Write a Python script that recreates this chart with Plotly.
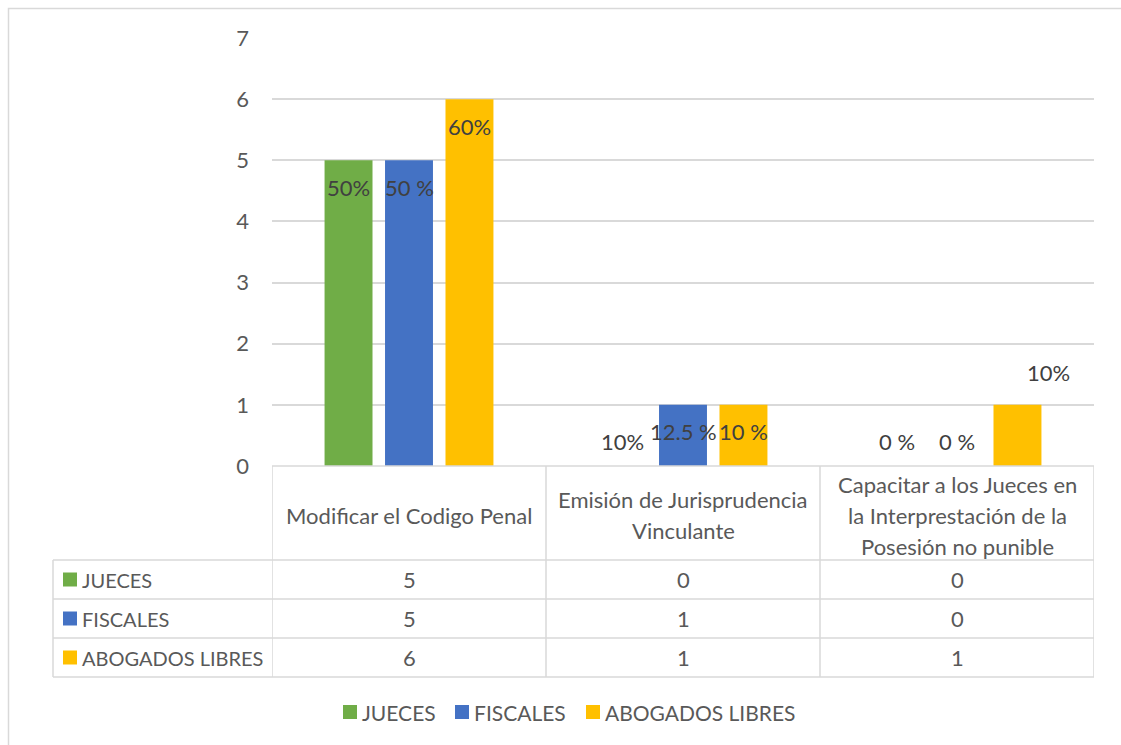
import plotly.graph_objects as go

# ---- data ----
categories = [
    "Modificar el Codigo Penal",
    "Emisión de Jurisprudencia<br>Vinculante",
    "Capacitar a los Jueces en<br>la Interprestación de la<br>Posesión no punible",
]
series_names = ["JUECES", "FISCALES", "ABOGADOS LIBRES"]
jueces = [5, 0, 0]
fiscales = [5, 1, 0]
abogados = [6, 1, 1]
jueces_labels = ["50%", "10%", "0 %"]
fiscales_labels = ["50 %", "12.5 %", "0 %"]
abogados_labels = ["60%", "10 %", "10%"]
y_ticks = [0, 1, 2, 3, 4, 5, 6, 7]

values = [jueces, fiscales, abogados]
labels = [jueces_labels, fiscales_labels, abogados_labels]
colors = ["#70AD47", "#4472C4", "#FFC000"]

# ---- layout geometry (pixels) ----
W, H = 1121, 745
PL, PR, PT, PB = 272, 1094, 38, 466
FONT = "Lato"
TXT = "#595959"
LBL = "#404040"
GRID = "#D9D9D9"
FS = 22
LINE_H = 31
BARGAP = 0.338
BARGROUPGAP = 0.207


def px(x):
    return (x - PL) / (PR - PL)


def py(y):
    return (PB - y) / (PB - PT)


fig = go.Figure()
x_idx = list(range(len(categories)))
for name, vals, col in zip(series_names, values, colors):
    fig.add_trace(go.Bar(x=x_idx, y=vals, name=name, marker_color=col,
                         marker_line_width=0, showlegend=False))

shapes = []
ann = []


def text(x, y, t, xref="paper", yref="paper", xanchor="center", size=FS,
         color=TXT, **kw):
    ann.append(dict(x=x, y=y, xref=xref, yref=yref, text=t, showarrow=False,
                    xanchor=xanchor, yanchor="middle",
                    font=dict(family=FONT, size=size, color=color), **kw))


# data labels placed relative to each bar
slot = (1 - BARGAP) / len(series_names)
label_shift = {(2, 2): (31, 32)}  # (series, category) -> (xshift, yshift)
for s, (vals, labs) in enumerate(zip(values, labels)):
    off = (s - (len(series_names) - 1) / 2) * slot
    for i, (v, t) in enumerate(zip(vals, labs)):
        xs, ys = label_shift.get((s, i), (0, -27 if v > 0 else 25))
        text(i + off, v, t, xref="x", yref="y", color=LBL,
             xshift=xs, yshift=ys)

# data table beneath the plot
line = dict(color=GRID, width=1.5)
shapes.append(dict(type="line", xref="paper", yref="paper", x0=0, x1=1,
                   y0=0, y1=0, line=line))
for b in [-0.5, 0.5, 1.5, 2.5]:
    shapes.append(dict(type="line", xref="x", yref="paper", x0=b, x1=b,
                       y0=0, y1=py(677), line=line))
for yy in [560, 599, 638, 677]:
    shapes.append(dict(type="line", xref="paper", yref="paper", x0=px(53),
                       x1=1, y0=py(yy), y1=py(yy), line=line))
shapes.append(dict(type="line", xref="paper", yref="paper", x0=px(53),
                   x1=px(53), y0=py(560), y1=py(677), line=line))

# category names in the header row, one annotation per wrapped line
for i, c in enumerate(categories):
    parts = c.split("<br>")
    for k, part in enumerate(parts):
        yc = 515 + (k - (len(parts) - 1) / 2) * LINE_H
        text(i, py(yc), part, xref="x")

row_centers = [579.5, 618.5, 657.5]
for name, vals, col, yc in zip(series_names, values, colors, row_centers):
    shapes.append(dict(type="rect", xref="paper", yref="paper",
                       x0=px(63), x1=px(77), y0=py(yc - 7), y1=py(yc + 7),
                       fillcolor=col, line_width=0))
    text(px(80), py(yc), name, xanchor="left", size=FS - 2)
    for i, v in enumerate(vals):
        text(i, py(yc), str(v), xref="x")

# legend
leg_y = 712
leg_sq = [343, 455, 586]
for name, col, x0 in zip(series_names, colors, leg_sq):
    shapes.append(dict(type="rect", xref="paper", yref="paper",
                       x0=px(x0), x1=px(x0 + 14), y0=py(leg_y - 7),
                       y1=py(leg_y + 7), fillcolor=col, line_width=0))
    text(px(x0 + 17), py(leg_y), name, xanchor="left", size=FS - 1)

# chart area border
shapes.append(dict(type="rect", xref="paper", yref="paper", x0=px(8.5),
                   x1=px(1130), y0=py(8.5), y1=py(760),
                   line=dict(color=GRID, width=1.5), fillcolor="rgba(0,0,0,0)"))

fig.update_layout(
    width=W, height=H,
    margin=dict(l=PL, r=W - PR, t=PT, b=H - PB),
    paper_bgcolor="white", plot_bgcolor="white",
    barmode="group", bargap=BARGAP, bargroupgap=BARGROUPGAP,
    shapes=shapes, annotations=ann,
    xaxis=dict(range=[-0.5, 2.5], showticklabels=False, showgrid=False,
               zeroline=False, showline=False, fixedrange=True),
    yaxis=dict(range=[0, 7], tickvals=y_ticks, showgrid=True, gridcolor=GRID,
               gridwidth=1.5, zeroline=False, showline=False,
               ticklabelstandoff=22,
               tickfont=dict(family=FONT, size=FS, color=TXT)),
    font=dict(family=FONT, color=TXT),
)

fig.write_html("out.html")
